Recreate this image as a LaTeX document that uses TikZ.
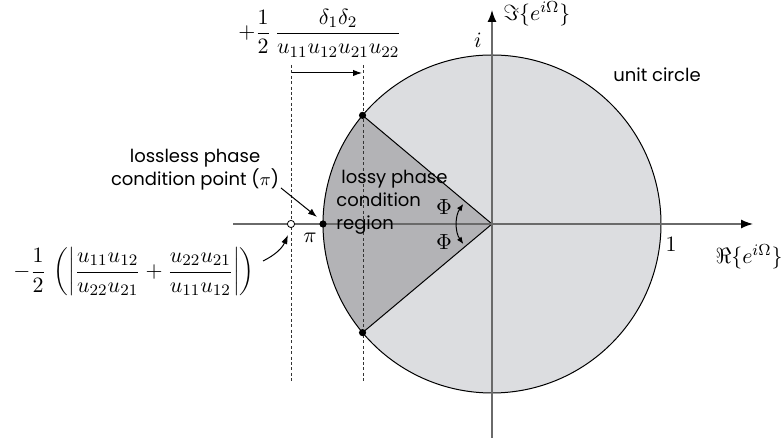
\documentclass[tikz,border=0pt]{standalone}
\usepackage{fontspec}
\newfontfamily\gsans{Poppins}
\usetikzlibrary{arrows.meta}
\definecolor{disk}{HTML}{DCDDE0}
\definecolor{sect}{HTML}{B3B3B6}
\definecolor{axisgray}{HTML}{6A6A6A}
\begin{document}
\begin{tikzpicture}[x=0.5pt,y=0.5pt,
  lbl/.style={font=\gsans\fontsize{9}{11.5}\selectfont, inner sep=0pt},
  mth/.style={font=\fontsize{11.4}{13.5}\selectfont, inner sep=0pt},
  axisline/.style={draw=axisgray, line width=0.7pt, -{Latex[length=6pt,width=4.5pt,black]}},
  guide/.style={draw=black!80, line width=0.5pt, dash pattern=on 1.5pt off 1.2pt},
  dotpt/.style={circle, fill=black, inner sep=0pt, minimum size=3.6pt},
  opendot/.style={circle, draw=black, fill=white, line width=0.4pt, inner sep=0pt, minimum size=3.6pt},
  conn/.style={-{Latex[length=4.5pt,width=3.2pt]}, line width=0.5pt}
]
\useasboundingbox (0,0) rectangle (781,442);
\coordinate (O) at (492,218);
% disk and sector
\fill[disk] (O) circle (169);
\fill[sect] (O) -- ([shift={(140:169)}]O) arc (140:220:169) -- cycle;
\draw[line width=0.5pt] (O) circle (169);
\coordinate (C1) at ([shift={(140:169)}]O);
\coordinate (C2) at ([shift={(220:169)}]O);
\draw[line width=0.5pt] (C1) -- (O) -- (C2);
% axes
\coordinate (xa) at (233,218);
\coordinate (xb) at (753,218);
\coordinate (ya) at (492,4);
\coordinate (yb) at (492,432);
\draw[axisline] (xa) -- (xb);
\draw[axisline] (ya) -- (yb);
% guides
\coordinate (d1t) at (291,377);
\coordinate (d1b) at (291,59);
\coordinate (d2t) at (363,377);
\coordinate (d2b) at (363,59);
\draw[guide] (d1t) -- (d1b);
\draw[guide] (d2t) -- (d2b);
\coordinate (sa) at (292,369);
\coordinate (sb) at (362,369);
\draw[conn] (sa) -- (sb);
% points
\node[dotpt] (p1) at (C1) {};
\node[dotpt] (p2) at (C2) {};
\node[dotpt] (ppi) at (323,218) {};
\node[opendot] (pl) at (291,218) {};
% angle arcs
\draw[line width=0.5pt, {Latex[length=3.5pt,width=2.8pt]}-{Latex[length=3.5pt,width=2.8pt]}] ([shift={(145:35)}]O) arc (145:215:35);
\node[mth] (phi1) at (444,235) {$\Phi$};
\node[mth] (phi2) at (444,200) {$\Phi$};
% labels
\node[mth] (topf) at (320,409) {$\displaystyle +\frac{1}{2}\,\frac{\delta_1\delta_2}{u_{11}u_{12}u_{21}u_{22}}$};
\node[mth] (leftf) at (134,170) {$\displaystyle -\frac{1}{2}\,\left(\left|\frac{u_{11}u_{12}}{u_{22}u_{21}}+\frac{u_{22}u_{21}}{u_{11}u_{12}}\right|\right)$};
\node[lbl, align=center] (ll) at (195,272) {lossless phase\\condition point ($\pi$)};
\node[lbl, align=left, anchor=west] (lossy) at (336,240) {\hspace{2.5pt}lossy phase\\condition\\region};
\node[lbl] (uc) at (657,367) {unit circle};
\node[mth] (pilab) at (310,204) {$\pi$};
\node[mth] (one) at (671,198) {$1$};
\node[mth] (ilab) at (478,402) {$i$};
\node[mth, anchor=west] (imlab) at (503,428) {$\Im\{e^{i\Omega}\}$};
\node[mth] (relab) at (749,185) {$\Re\{e^{i\Omega}\}$};
% connectors
\coordinate (la) at (281,254);
\coordinate (lb) at (317,225);
\draw[conn] (la) -- (lb);
\coordinate (fa) at (263,181);
\coordinate (fb) at (288,207);
\draw[conn] (fa) to[bend right=20] (fb);
\end{tikzpicture}
\end{document}
